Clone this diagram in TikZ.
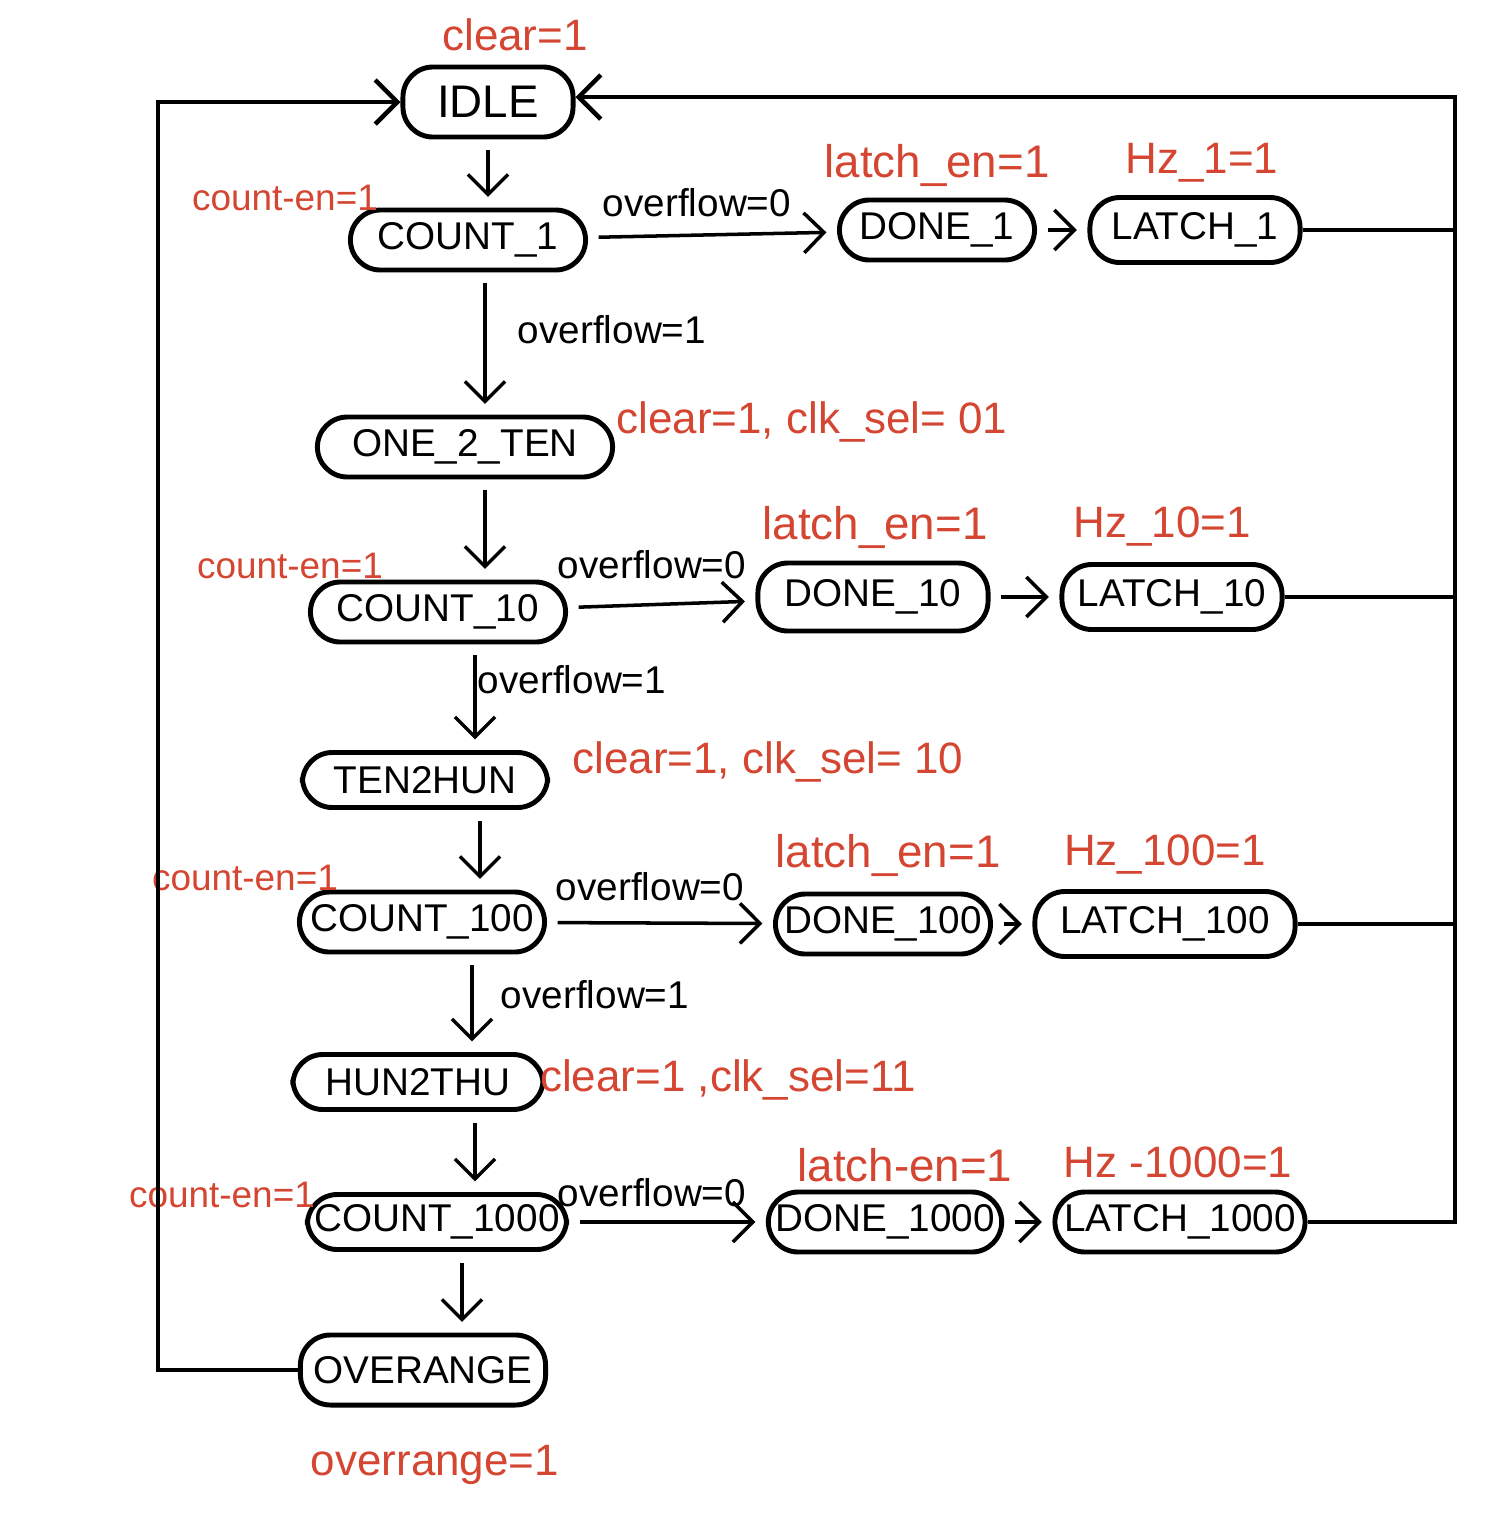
\documentclass[tikz,border=0pt]{standalone}
\usepackage{fontspec}
\setmainfont{Liberation Sans}
\usetikzlibrary{arrows.meta}
\definecolor{redc}{RGB}{212,70,50}
\begin{document}
\begin{tikzpicture}[x=0.01cm,y=-0.01cm,
  state/.style={draw, line width=1.4pt, rounded corners=0.3cm, minimum height=0.6cm, inner sep=2pt, font=\fontsize{11}{13}\selectfont},
  lbl/.style={text=redc, font=\fontsize{12.5}{15}\selectfont, inner sep=0pt},
  lblsm/.style={text=redc, font=\fontsize{10.5}{13}\selectfont, inner sep=0pt},
  cond/.style={font=\fontsize{11}{13}\selectfont, inner sep=0pt},
  arr/.style={line width=1pt, shorten >=3pt, shorten <=3pt, -{Straight Barb[length=2mm,width=4mm]}},
  wire/.style={line width=1.3pt}]
\useasboundingbox (0,0) rectangle (1506,1529);
% states
\node[state, minimum width=1.7cm, minimum height=0.7cm, font=\fontsize{13}{15}\selectfont] (idle) at (488,102) {IDLE};
\node[state, minimum width=2.35cm] (c1) at (468,240) {COUNT\_1};
\node[state, minimum width=1.95cm] (d1) at (937,230) {DONE\_1};
\node[state, minimum width=2.1cm, minimum height=0.65cm] (l1) at (1195,230) {LATCH\_1};
\node[state, minimum width=2.95cm] (o2t) at (465,447) {ONE\_2\_TEN};
\node[state, minimum width=2.55cm] (c10) at (438,612) {COUNT\_10};
\node[state, minimum width=2.3cm, minimum height=0.68cm] (d10) at (873,597) {DONE\_10};
\node[state, minimum width=2.2cm, minimum height=0.65cm] (l10) at (1172,597) {LATCH\_10};
\node[state, minimum width=2.45cm, minimum height=0.55cm] (t2h) at (425,780) {TEN2HUN};
\node[state, minimum width=2.45cm] (c100) at (422,922) {COUNT\_100};
\node[state, minimum width=2.15cm] (d100) at (883,924) {DONE\_100};
\node[state, minimum width=2.6cm, minimum height=0.65cm] (l100) at (1165,924) {LATCH\_100};
\node[state, minimum width=2.5cm, minimum height=0.55cm] (h2t) at (418,1082) {HUN2THU};
\node[state, minimum width=2.55cm, minimum height=0.55cm] (c1000) at (437,1222) {COUNT\_1000};
\node[state, minimum width=2.25cm] (d1000) at (885,1222) {DONE\_1000};
\node[state, minimum width=2.5cm] (l1000) at (1180,1222) {LATCH\_1000};
\node[state, minimum width=2.45cm, minimum height=0.7cm] (ovr) at (423,1370) {OVERANGE};
% red labels
\node[lbl] (t0) at (515,35) {clear=1};
\node[lbl, font=\fontsize{13}{15}\selectfont] (t1) at (937,165) {latch\_en=1};
\node[lbl] (t2) at (1202,163) {Hz\_1=1};
\node[lblsm] (t3) at (285,198) {count-en=1};
\node[lbl] (t4) at (812,422) {clear=1, clk\_sel= 01};
\node[lbl, font=\fontsize{13}{15}\selectfont] (t5) at (875,527) {latch\_en=1};
\node[lbl] (t6) at (1162,527) {Hz\_10=1};
\node[lblsm] (t7) at (290,566) {count-en=1};
\node[lbl] (t8) at (768,762) {clear=1, clk\_sel= 10};
\node[lbl, font=\fontsize{13}{15}\selectfont] (t9) at (888,855) {latch\_en=1};
\node[lbl] (t10) at (1165,855) {Hz\_100=1};
\node[lblsm] (t11) at (245,878) {count-en=1};
\node[lbl] (t12) at (728,1080) {clear=1 ,clk\_sel=11};
\node[lbl, font=\fontsize{13}{15}\selectfont] (t13) at (905,1165) {latch-en=1};
\node[lbl] (t14) at (1178,1162) {Hz -1000=1};
\node[lblsm] (t15) at (222,1195) {count-en=1};
\node[lbl] (t16) at (435,1465) {overrange=1};
% condition labels
\node[cond] (k1) at (697,203) {overflow=0};
\node[cond] (k2) at (612,330) {overflow=1};
\node[cond] (k3) at (652,565) {overflow=0};
\node[cond] (k4) at (572,680) {overflow=1};
\node[cond] (k5) at (650,887) {overflow=0};
\node[cond] (k6) at (595,995) {overflow=1};
\node[cond] (k7) at (652,1193) {overflow=0};
% columns of the vertical arrows
\coordinate (a0) at (488,0);
\coordinate (a1) at (485,0);
\coordinate (a2) at (485,0);
\coordinate (a3) at (475,0);
\coordinate (a4) at (480,0);
\coordinate (a5) at (472,0);
\coordinate (a6) at (475,0);
\coordinate (a7) at (462,0);
% transitions
\draw[arr] (idle.south -| a0) -- (c1.north -| a0);
\draw[arr] (c1.south -| a1) -- (o2t.north -| a1);
\draw[arr] (o2t.south -| a2) -- (c10.north -| a2);
\draw[arr] (c10.south -| a3) -- (t2h.north -| a3);
\draw[arr] (t2h.south -| a4) -- (c100.north -| a4);
\draw[arr] (c100.south -| a5) -- (h2t.north -| a5);
\draw[arr] (h2t.south -| a6) -- (c1000.north -| a6);
\draw[arr] (c1000.south -| a7) -- (ovr.north -| a7);
\draw[arr] (c1) -- (d1);
\draw[arr] (d1) -- (l1);
\draw[arr] (c10) -- (d10);
\draw[arr] (d10) -- (l10);
\draw[arr] (c100) -- (d100);
\draw[arr] (d100) -- (l100);
\draw[arr] (c1000) -- (d1000);
\draw[arr] (d1000) -- (l1000);
% return wires
\coordinate (rt) at (1455,97);
\coordinate (lt) at (158,102);
\draw[wire] (l1.east) -- (l1.east -| rt);
\draw[wire] (l10.east) -- (l10.east -| rt);
\draw[wire] (l100.east) -- (l100.east -| rt);
\draw[wire, -{Straight Barb[length=2.2mm,width=4.4mm]}] (l1000.east) -| (rt) -- (idle.east |- rt);
\draw[wire, -{Straight Barb[length=2.2mm,width=4.4mm]}] (ovr.west) -| (lt) -- (idle.west);
\end{tikzpicture}
\end{document}
